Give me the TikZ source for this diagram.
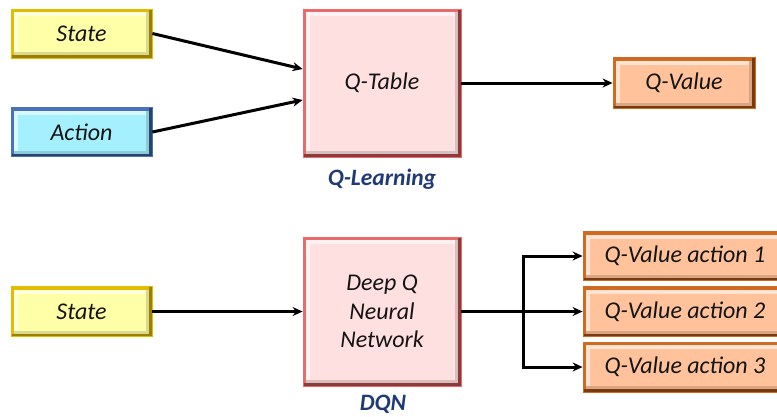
\documentclass[tikz,border=0pt]{standalone}
\usepackage{fontspec}
\setmainfont{Carlito}
\usetikzlibrary{arrows.meta}

\definecolor{ylwfill}{HTML}{FFFFA8}
\definecolor{ylwmid}{HTML}{E2BC00}
\definecolor{ylwdark}{HTML}{9C7E00}
\definecolor{cyafill}{HTML}{A5F0FF}
\definecolor{cyamid}{HTML}{4A72B8}
\definecolor{cyadark}{HTML}{2A426E}
\definecolor{pnkfill}{HTML}{FFE0E0}
\definecolor{pnkmid}{HTML}{E86A6A}
\definecolor{pnkdark}{HTML}{8C3A3A}
\definecolor{orgfill}{HTML}{FFC29A}
\definecolor{orgmid}{HTML}{D06A20}
\definecolor{orgdark}{HTML}{7A3A10}
\definecolor{labelblue}{HTML}{1F3A75}

\tikzset{
  % bevelled box: #1 fill, #2 light edge, #3 dark edge
  bevelbox/.style n args={3}{
    rectangle, inner sep=0pt, draw=#2, line width=0.8pt, fill=#1,
    font=\fontsize{24}{28.5}\selectfont\itshape, text=black!92, align=center,
    path picture={
      \coordinate (pNW) at (path picture bounding box.north west);
      \coordinate (pNE) at (path picture bounding box.north east);
      \coordinate (pSW) at (path picture bounding box.south west);
      \coordinate (pSE) at (path picture bounding box.south east);
      \fill[#1!45!white] (pNW) rectangle ([yshift=-7pt]pNE);
      \fill[#1!45!white] (pNW) rectangle ([xshift=7pt]pSW);
      \fill[#1!85!black] (pSW) rectangle ([yshift=6pt]pSE);
      \fill[#1!85!black] (pNE) rectangle ([xshift=-6pt]pSE);
      \fill[#2] (pNW) rectangle ([yshift=-3pt]pNE);
      \fill[#2] (pNW) rectangle ([xshift=3pt]pSW);
      \fill[#3] (pSW) rectangle ([yshift=3pt]pSE);
      \fill[#3] (pNE) rectangle ([xshift=-3pt]pSE);
    }},
  yellowbox/.style={bevelbox={ylwfill}{ylwmid}{ylwdark}},
  cyanbox/.style={bevelbox={cyafill}{cyamid}{cyadark}},
  pinkbox/.style={bevelbox={pnkfill}{pnkmid}{pnkdark}},
  orangebox/.style={bevelbox={orgfill}{orgmid}{orgdark}},
  caption/.style={font=\fontsize{23.5}{28}\selectfont\bfseries\itshape, text=labelblue},
  arr/.style={line width=3pt, black, -{Stealth[length=10pt,width=9pt]}},
}

\begin{document}
\begin{tikzpicture}[x=1pt, y=-1pt]
  \useasboundingbox (0,0) rectangle (777,416);

  % Q-learning row
  \node[yellowbox, minimum width=141pt, minimum height=49pt] (state1) at (81.5,33.5) {State};
  \node[cyanbox, minimum width=141pt, minimum height=49pt] (action) at (81.5,132) {Action};
  \node[pinkbox, minimum width=158pt, minimum height=148pt] (qtable) at (382,83) {Q-Table};
  \node[orangebox, minimum width=142pt, minimum height=51pt] (qvalue) at (684,83) {Q-Value};
  \node[caption] (qlearn) at (382,179) {Q-Learning};

  \draw[arr] (state1.east) -- ([yshift=14pt]qtable.west);
  \draw[arr] (action.east) -- ([yshift=-17pt]qtable.west);
  \draw[arr] (qtable.east) -- (qvalue.west);

  % DQN row
  \node[yellowbox, minimum width=141pt, minimum height=50pt] (state2) at (81.5,311.5) {State};
  \node[pinkbox, minimum width=158pt, minimum height=149pt] (dqn) at (382,311.5) {Deep Q\\Neural\\Network};
  \node[caption] (dqnlabel) at (383,404) {DQN};

  \node[orangebox, minimum width=204pt, minimum height=49pt] (qa1) at (685,256) {Q-Value action 1};
  \node[orangebox, minimum width=204pt, minimum height=50pt] (qa2) at (685,311.5) {Q-Value action 2};
  \node[orangebox, minimum width=204pt, minimum height=50pt] (qa3) at (685,367) {Q-Value action 3};

  \coordinate (split) at (523,311.5);

  \draw[arr] (state2.east) -- (dqn.west);
  \draw[arr] (dqn.east) -- (qa2.west);
  \draw[arr] (split) |- (qa1.west);
  \draw[arr] (split) |- (qa3.west);
\end{tikzpicture}
\end{document}
